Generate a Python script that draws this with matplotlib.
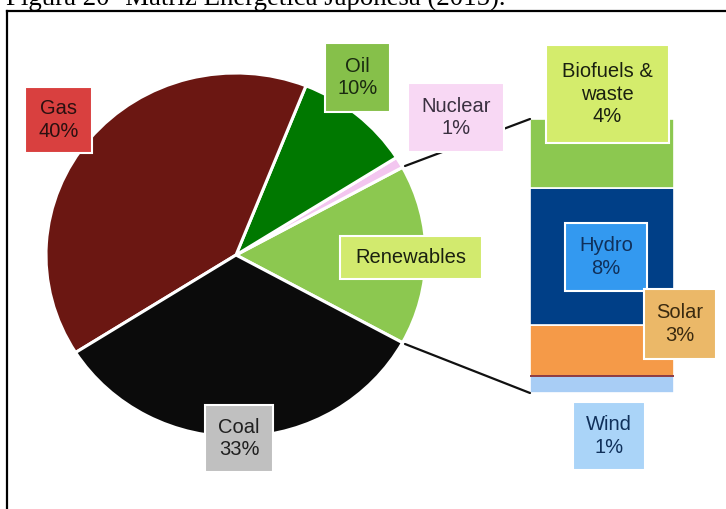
import math
import matplotlib
matplotlib.use("Agg")
import matplotlib.pyplot as plt
from matplotlib.patches import Rectangle, ConnectionPatch
from matplotlib.lines import Line2D

# ---- data -------------------------------------------------------------
pie_labels = ["Renewables", "Nuclear", "Oil", "Gas", "Coal"]
pie_values = [16, 1, 10, 40, 33]
pie_colors = ["#8cc850", "#f3c6f0", "#007800", "#6b1712", "#0b0b0b"]

bar_labels = ["Wind", "Solar", "Hydro", "Biofuels &\nwaste"]
bar_values = [1, 3, 8, 4]
bar_colors = ["#a8cdf5", "#f59a48", "#003f87", "#8cc850"]

title = "Figura 20- Matriz Energética Japonesa (2015)."

# ---- figure -----------------------------------------------------------
W, H = 726, 509
fig = plt.figure(figsize=(W / 100, H / 100), dpi=100)
fig.patch.set_facecolor("white")


def frac_box(x0, y0, x1, y1):
    """Pixel box (top-left origin) -> figure fraction [l, b, w, h]."""
    return [x0 / W, (H - y1) / H, (x1 - x0) / W, (y1 - y0) / H]


# pie of the primary sources
pie_ax = fig.add_axes(frac_box(46, 73, 426, 437), zorder=1)
renew_share = pie_values[0]
start = -renew_share / sum(pie_values) * 360 / 2
pie_ax.pie(pie_values, colors=pie_colors, startangle=start,
           counterclock=True, radius=1.0,
           wedgeprops=dict(edgecolor="white", linewidth=2.2))
pie_ax.set_xlim(-1, 1)
pie_ax.set_ylim(-1, 1)
pie_ax.set_aspect("auto")
pie_ax.axis("off")

# stacked bar breaking down the renewables wedge
bar_ax = fig.add_axes(frac_box(530, 119, 674, 393), zorder=1)
bottom = 0
for v, c in zip(bar_values, bar_colors):
    bar_ax.bar(0, v, width=1.0, bottom=bottom, color=c,
               edgecolor="white", linewidth=1.2)
    bottom += v
bar_ax.axhline(bar_values[0], color="#7a1a24", linewidth=1.2)
bar_ax.set_xlim(-0.5, 0.5)
bar_ax.set_ylim(0, sum(bar_values))
bar_ax.axis("off")

# connector lines from the renewables wedge to the bar
half = math.radians(abs(start))
for sgn, ybar in ((1, sum(bar_values)), (-1, 0)):
    cp = ConnectionPatch(xyA=(math.cos(half) * 1.015, sgn * math.sin(half) * 1.015),
                         coordsA=pie_ax.transData,
                         xyB=(-0.5, ybar), coordsB=bar_ax.transData,
                         color="#111111", linewidth=1.6, zorder=2)
    fig.add_artist(cp)

# overlay for labels and frame, in pixel coordinates
ov = fig.add_axes([0, 0, 1, 1], zorder=5)
ov.set_xlim(0, W)
ov.set_ylim(H, 0)
ov.patch.set_alpha(0)
ov.axis("off")

values = dict(zip(pie_labels, pie_values))
values.update(dict(zip(bar_labels, bar_values)))

# label boxes: name -> (x0, y0, x1, y1, face, text colour)
label_boxes = {
    "Gas": (25, 87, 92, 153, "#d9403f", "#2a1010"),
    "Oil": (325, 43, 390, 112, "#86c04a", "#1a2a10"),
    "Nuclear": (408, 83, 504, 152, "#f8d8f4", "#3a3040"),
    "Biofuels &\nwaste": (546, 45, 669, 143, "#d4ec6c", "#1a2010"),
    "Renewables": (340, 236, 482, 279, "#d2ea6e", "#1a2010"),
    "Hydro": (565, 223, 647, 291, "#3399f0", "#10305a"),
    "Solar": (644, 289, 716, 359, "#ebb868", "#3a2a10"),
    "Wind": (573, 402, 645, 470, "#aad4f8", "#10305a"),
    "Coal": (205, 405, 273, 472, "#c0c0c0", "#202020"),
}

for name, (x0, y0, x1, y1, face, tc) in label_boxes.items():
    ov.add_patch(Rectangle((x0, y0), x1 - x0, y1 - y0, facecolor=face,
                           edgecolor="white", linewidth=1.5, zorder=3))
    text = name if name == "Renewables" else f"{name}\n{values[name]}%"
    ov.text((x0 + x1) / 2, (y0 + y1) / 2, text, ha="center", va="center",
            multialignment="center", fontsize=14.5, color=tc,
            family="Liberation Sans", linespacing=1.25, zorder=4)

# document frame (only the top and left edges fall inside the image)
ov.add_line(Line2D([7, W + 10], [11, 11], color="black", linewidth=1.6,
                   clip_on=False))
ov.add_line(Line2D([7, 7], [11, H + 10], color="black", linewidth=1.6,
                   clip_on=False))

# caption sitting above the frame
fig.text(6 / W, 1 - 5 / H, title, ha="left", va="baseline",
         fontsize=19.4, family="Liberation Serif", color="black")

fig.savefig("out.png", dpi=100)
